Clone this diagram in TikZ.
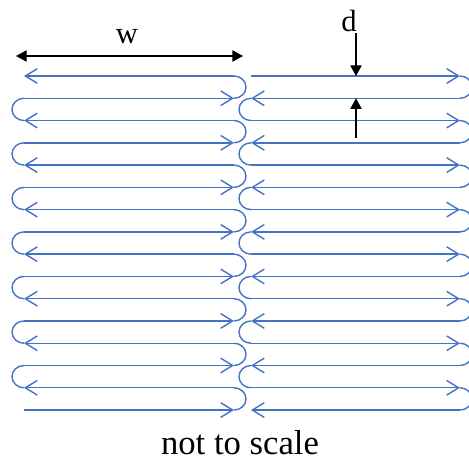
\documentclass[tikz,border=0pt]{standalone}
\usepackage{fontspec}
\setmainfont{Liberation Serif}
\usepackage{tikz}
\usetikzlibrary{arrows.meta,positioning}
\definecolor{pathblue}{RGB}{68,114,196}

\begin{document}
\begin{tikzpicture}[x=0.75pt, y=0.75pt,
 flow/.style={-{Straight Barb[length=9pt, width=11pt]}, line width=1.05pt, color=pathblue},
 turn/.style={line width=1.05pt, color=pathblue},
 dim/.style={{Triangle[length=8pt, width=8.5pt]}-{Triangle[length=8pt, width=8.5pt]}, line width=.9pt},
 ptr/.style={-{Triangle[length=8pt, width=8.5pt]}, line width=.9pt},
 lab/.style={font=\fontsize{23}{26}\selectfont, inner sep=0pt}]
\useasboundingbox (0,0) rectangle (469,462);
\clip (0,0) rectangle (469,462);
\def\gap{22.27}
% straight runs, both columns
\foreach \i in {0,...,15} {
  \pgfmathsetmacro\yy{386-\i*\gap}
  \ifodd\i
    \draw[flow] (24,\yy) -- (234,\yy);
    \draw[flow] (460,\yy) -- (251,\yy);
  \else
    \draw[flow] (234,\yy) -- (24,\yy);
    \draw[flow] (251,\yy) -- (460,\yy);
  \fi
}
% turns on the right side of each column
\foreach \i in {0,2,...,14} {
  \pgfmathsetmacro\yy{386-\i*\gap}
  \draw[turn] (234,\yy) arc[start angle=90, end angle=-90, x radius=12, y radius=\gap/2];
  \draw[turn] (460,\yy) arc[start angle=90, end angle=-90, x radius=12, y radius=\gap/2];
}
% turns on the left side of each column
\foreach \i in {1,3,...,13} {
  \pgfmathsetmacro\yy{386-\i*\gap}
  \draw[turn] (24,\yy) arc[start angle=90, end angle=270, x radius=12, y radius=\gap/2];
  \draw[turn] (251,\yy) arc[start angle=90, end angle=270, x radius=12, y radius=\gap/2];
}
% width w
\coordinate (wleft) at (16,406);
\coordinate (wright) at (243,406);
\draw[dim] (wleft) -- (wright);
\node[lab] (wlabel) at (127,425) {w};
% spacing d
\coordinate (dtop) at (356,429);
\coordinate (row0) at (356,386);
\coordinate (dbot) at (356,324);
\coordinate (row1) at (356,386-\gap);
\draw[ptr] (dtop) -- (row0);
\draw[ptr] (dbot) -- (row1);
\node[lab] (dlabel) at (349,441) {d};
\node[font=\fontsize{26}{30}\selectfont, inner sep=0pt] (note) at (240,19) {not to scale};
\end{tikzpicture}
\end{document}
